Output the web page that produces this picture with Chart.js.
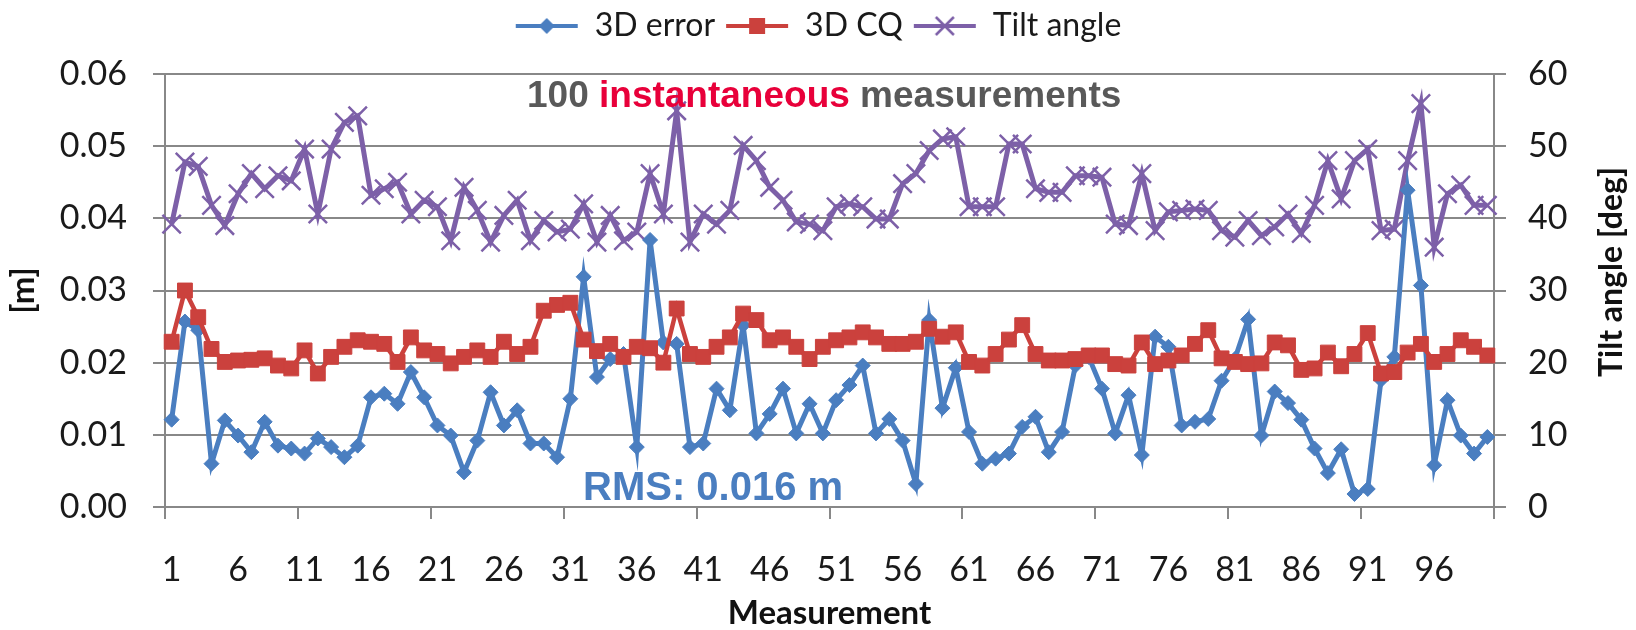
<!DOCTYPE html>
<html>
<head>
<meta charset="utf-8">
<script src="https://cdn.jsdelivr.net/npm/chart.js@4.4.1/dist/chart.umd.min.js"></script>
<style>
html,body{margin:0;padding:0;background:#ffffff;}
#wrap{width:1636px;height:630px;position:relative;}
</style>
</head>
<body>
<div id="wrap"><canvas id="c" width="1636" height="630"></canvas></div>
<script>
// ---------- DATA ----------
const categories = Array.from({length: 100}, (_, i) => String(i + 1));
const xTickLabels = ['1','6','11','16','21','26','31','36','41','46','51','56','61','66','71','76','81','86','91','96'];
const seriesNames = ['3D error', '3D CQ', 'Tilt angle'];

const error3D = [
  0.0121, 0.0257, 0.0245, 0.0060, 0.0120, 0.0099, 0.0076, 0.0118, 0.0085, 0.0081,
  0.0074, 0.0095, 0.0083, 0.0069, 0.0085, 0.0152, 0.0157, 0.0143, 0.0187, 0.0152,
  0.0113, 0.0099, 0.0048, 0.0092, 0.0159, 0.0113, 0.0134, 0.0088, 0.0088, 0.0069,
  0.0150, 0.0319, 0.0180, 0.0205, 0.0212, 0.0083, 0.0370, 0.0228, 0.0226, 0.0083,
  0.0088, 0.0164, 0.0134, 0.0252, 0.0102, 0.0129, 0.0164, 0.0102, 0.0143, 0.0102,
  0.0148, 0.0169, 0.0196, 0.0102, 0.0122, 0.0092, 0.0032, 0.0259, 0.0137, 0.0193,
  0.0104, 0.0060, 0.0067, 0.0074, 0.0111, 0.0125, 0.0076, 0.0104, 0.0196, 0.0208,
  0.0164, 0.0102, 0.0155, 0.0072, 0.0236, 0.0222, 0.0113, 0.0118, 0.0122, 0.0175,
  0.0205, 0.0260, 0.0099, 0.0160, 0.0144, 0.0121, 0.0081, 0.0047, 0.0080, 0.0018,
  0.0025, 0.0176, 0.0208, 0.0439, 0.0307, 0.0058, 0.0148, 0.0099, 0.0074, 0.0097
];

const cq3D = [
  0.0229, 0.0300, 0.0263, 0.0219, 0.0201, 0.0203, 0.0204, 0.0206, 0.0196, 0.0192,
  0.0217, 0.0185, 0.0208, 0.0222, 0.0231, 0.0229, 0.0226, 0.0201, 0.0235, 0.0217,
  0.0212, 0.0199, 0.0208, 0.0217, 0.0208, 0.0229, 0.0212, 0.0222, 0.0272, 0.0280,
  0.0283, 0.0232, 0.0216, 0.0226, 0.0208, 0.0222, 0.0220, 0.0200, 0.0275, 0.0212,
  0.0208, 0.0222, 0.0235, 0.0268, 0.0259, 0.0231, 0.0235, 0.0222, 0.0205, 0.0222,
  0.0231, 0.0235, 0.0242, 0.0235, 0.0226, 0.0226, 0.0229, 0.0247, 0.0236, 0.0242,
  0.0201, 0.0196, 0.0212, 0.0232, 0.0252, 0.0212, 0.0203, 0.0203, 0.0205, 0.0210,
  0.0210, 0.0198, 0.0196, 0.0228, 0.0198, 0.0203, 0.0210, 0.0226, 0.0245, 0.0206,
  0.0201, 0.0198, 0.0199, 0.0228, 0.0224, 0.0190, 0.0192, 0.0214, 0.0195, 0.0212,
  0.0241, 0.0185, 0.0187, 0.0214, 0.0226, 0.0201, 0.0212, 0.0231, 0.0222, 0.0210
];

const tiltAngle = [
  39.2, 47.8, 47.2, 41.8, 39.0, 43.4, 46.2, 44.1, 45.9, 45.2,
  49.6, 40.6, 49.6, 53.3, 54.2, 43.2, 44.1, 45.0, 40.6, 42.5,
  41.6, 36.9, 44.3, 41.1, 36.7, 40.4, 42.5, 36.9, 39.7, 38.1,
  38.5, 42.0, 36.7, 40.4, 36.9, 38.1, 46.2, 40.6, 54.9, 36.7,
  40.6, 39.2, 41.1, 50.1, 48.0, 44.3, 42.5, 39.5, 39.2, 38.3,
  41.6, 42.0, 41.6, 39.9, 39.9, 44.8, 46.2, 49.4, 51.0, 51.3,
  41.6, 41.6, 41.6, 50.3, 50.3, 44.1, 43.6, 43.6, 45.9, 45.9,
  45.7, 39.2, 39.0, 46.2, 38.3, 40.9, 41.1, 41.3, 41.1, 38.3,
  37.4, 39.7, 37.6, 38.8, 40.6, 37.9, 41.8, 48.0, 42.7, 48.0,
  49.6, 38.3, 38.5, 48.0, 55.9, 36.0, 43.4, 44.6, 41.8, 41.8
];

const leftAxisRange = [0, 0.06, 0.01];
const rightAxisRange = [0, 60, 10];

// ---------- STYLE ----------
const BLUE = '#4A7EC0';
const RED = '#CB413D';
const PURPLE = '#7D60A8';
const GRID = '#888888';
const TEXT = '#1a1a1a';
Chart.defaults.font.family = 'Lato, "Open Sans", sans-serif';

function legendIcon(color, kind) {
  const c = document.createElement('canvas');
  c.width = 64; c.height = 28;
  const g = c.getContext('2d');
  g.strokeStyle = color; g.fillStyle = color; g.lineWidth = 4;
  g.beginPath(); g.moveTo(1, 14); g.lineTo(63, 14); g.stroke();
  const cx = 32, cy = 14;
  if (kind === 'diamond') {
    g.beginPath(); g.moveTo(cx, cy - 8); g.lineTo(cx + 8, cy); g.lineTo(cx, cy + 8); g.lineTo(cx - 8, cy); g.closePath(); g.fill();
  } else if (kind === 'square') {
    g.fillRect(cx - 8, cy - 8, 16, 16);
  } else {
    g.lineWidth = 2.5;
    g.beginPath(); g.moveTo(cx - 9, cy - 9); g.lineTo(cx + 9, cy + 9); g.moveTo(cx + 9, cy - 9); g.lineTo(cx - 9, cy + 9); g.stroke();
  }
  return c;
}
const icons = [legendIcon(BLUE, 'diamond'), legendIcon(RED, 'square'), legendIcon(PURPLE, 'cross')];

const legendSpacer = {
  id: 'legendSpacer',
  beforeInit(chart) {
    const orig = chart.legend.fit;
    chart.legend.fit = function () { orig.call(this); this.height += 22; };
  }
};

const annotations = {
  id: 'annotations',
  afterDatasetsDraw(chart) {
    const ctx = chart.ctx;
    ctx.save();
    ctx.textBaseline = 'alphabetic';
    ctx.textAlign = 'left';
    ctx.font = 'bold 37px "Liberation Sans", Arial, sans-serif';
    const parts = [['100 ', '#595959'], ['instantaneous', '#E8003A'], [' measurements', '#595959']];
    let x = 527;
    for (const [t, col] of parts) {
      ctx.fillStyle = col;
      ctx.fillText(t, x, 107);
      x += ctx.measureText(t).width;
    }
    ctx.font = 'bold 40px "Liberation Sans", Arial, sans-serif';
    ctx.fillStyle = '#4A7EC0';
    ctx.fillText('RMS: 0.016 m', 583, 500);
    // right axis title (reads bottom to top)
    ctx.translate(1612, 272);
    ctx.rotate(-Math.PI / 2);
    ctx.textAlign = 'center';
    ctx.textBaseline = 'middle';
    ctx.font = 'bold 32px Lato, "Open Sans", sans-serif';
    ctx.fillStyle = '#111';
    ctx.fillText('Tilt angle [deg]', 0, 0);
    ctx.restore();
  }
};

new Chart(document.getElementById('c'), {
  type: 'line',
  data: {
    labels: categories,
    datasets: [
      { label: seriesNames[0], data: error3D, yAxisID: 'y', order: 2,
        borderColor: BLUE, backgroundColor: BLUE, borderWidth: 5,
        pointStyle: 'rectRot', pointRadius: 7.5, pointBorderWidth: 1, pointHoverRadius: 7.5, tension: 0 },
      { label: seriesNames[1], data: cq3D, yAxisID: 'y', order: 1,
        borderColor: RED, backgroundColor: RED, borderWidth: 4.5,
        pointStyle: 'rect', pointRadius: 10.5, pointBorderWidth: 1, pointHoverRadius: 10.5, tension: 0 },
      { label: seriesNames[2], data: tiltAngle, yAxisID: 'y2', order: 3,
        borderColor: PURPLE, backgroundColor: PURPLE, borderWidth: 5,
        pointStyle: 'crossRot', pointRadius: 13, pointBorderWidth: 2.5, pointHoverRadius: 13, tension: 0 }
    ]
  },
  options: {
    responsive: false,
    animation: false,
    devicePixelRatio: 1,
    layout: { padding: 0 },
    plugins: {
      tooltip: { enabled: false },
      legend: {
        position: 'top',
        labels: {
          usePointStyle: true,
          pointStyleWidth: 64,
          padding: 10,
          color: TEXT,
          font: { size: 32 },
          sort: (a, b) => a.datasetIndex - b.datasetIndex,
          generateLabels(chart) {
            const items = Chart.defaults.plugins.legend.labels.generateLabels(chart);
            items.forEach(it => { it.pointStyle = icons[it.datasetIndex]; it.rotation = 0; });
            return items;
          }
        }
      }
    },
    scales: {
      x: {
        type: 'category',
        offset: true,
        grid: {
          offset: true, drawOnChartArea: false, drawTicks: true, tickLength: 12, lineWidth: 2,
          color: c => (c.index === undefined || c.index % 10 === 0) ? GRID : 'rgba(0,0,0,0)'
        },
        border: { display: true, color: GRID, width: 2 },
        ticks: {
          autoSkip: false, maxRotation: 0, minRotation: 0, padding: 31,
          color: TEXT, font: { size: 34 },
          callback(v, i) { const l = categories[i]; return xTickLabels.includes(l) ? l : ''; }
        },
        title: { display: true, text: 'Measurement', color: '#111', font: { size: 33, weight: 'bold', lineHeight: 1.0 }, padding: { top: 0, bottom: 0 } },
        afterFit(s) { s.height = 123; }
      },
      y: {
        position: 'left',
        min: leftAxisRange[0], max: leftAxisRange[1],
        grid: { color: GRID, lineWidth: 2, tickLength: 12 },
        border: { display: true, color: GRID, width: 2 },
        ticks: { stepSize: leftAxisRange[2], padding: 26, color: TEXT, font: { size: 34 }, callback: v => Number(v).toFixed(2) },
        title: { display: true, text: '[m]', color: '#111', font: { size: 33, weight: 'bold' }, padding: { top: 4, bottom: 0 } },
        afterFit(s) { s.width = 165; }
      },
      y2: {
        position: 'right',
        min: rightAxisRange[0], max: rightAxisRange[1],
        grid: { drawOnChartArea: false, color: GRID, lineWidth: 2, tickLength: 12 },
        border: { display: true, color: GRID, width: 2 },
        ticks: { stepSize: rightAxisRange[2], padding: 22, color: TEXT, font: { size: 34 } },
        afterFit(s) { s.width = 142; }
      }
    }
  },
  plugins: [legendSpacer, annotations]
});
</script>
</body>
</html>
